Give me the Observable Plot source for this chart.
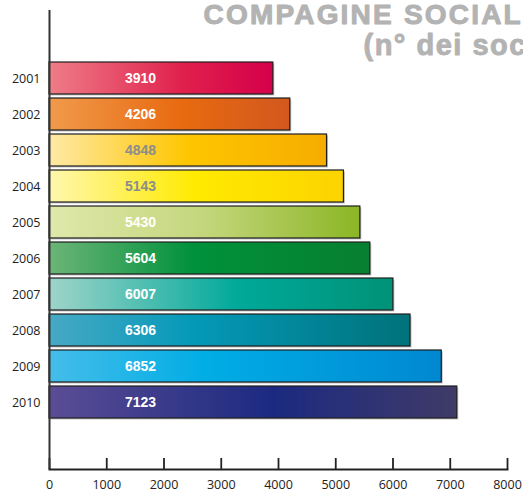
<!DOCTYPE html>
<html>
<head>
<meta charset="utf-8">
<script src="https://cdn.jsdelivr.net/npm/d3@7"></script>
<script src="https://cdn.jsdelivr.net/npm/@observablehq/plot@0.6"></script>
<style>
  html, body { margin: 0; padding: 0; background: #fff; overflow: hidden; }
</style>
</head>
<body>
<div id="chart"></div>
<script>
// ---- data ----
const years = ["2001","2002","2003","2004","2005","2006","2007","2008","2009","2010"];
const members = [3910, 4206, 4848, 5143, 5430, 5604, 6007, 6306, 6852, 7123];
const xTicks = [0, 1000, 2000, 3000, 4000, 5000, 6000, 7000, 8000];
const titleLine1 = "COMPAGINE SOCIALE";
const titleLine2 = "(n° dei soci)";

// ---- styles (gradient stops left / middle / right) ----
const gradLeft  = ["#ee7d87","#f09a4c","#fee9a6","#fff7ae","#dfe8ab","#6cb577","#9fd4c9","#47a9c5","#45bde9","#5b4d95"];
const gradMid   = ["#e0204c","#e86a10","#fec600","#ffea00","#c4d67c","#00913b","#00a99a","#0499b9","#00ade5","#1b2a80"];
const gradMidAt = [0.6, 0.55, 0.5, 0.5, 0.5, 0.45, 0.55, 0.4, 0.4, 0.55];
const gradRight = ["#d5004a","#d2581e","#f6ac00","#fcd300","#8bb625","#077f30","#009277","#00727a","#0088d1","#403b68"];
const labelColor = ["#fff","#fff","#8c8c8c","#8c8c8c","#fff","#fff","#fff","#fff","#fff","#fff"];

const rows = years.map((y, i) => ({year: y, value: members[i], i}));

const svg = Plot.plot({
  width: 523,
  height: 493,
  marginLeft: 49,
  marginRight: 16,
  marginTop: 10,
  marginBottom: 24,
  style: {fontFamily: "'Open Sans', sans-serif", fontSize: "12.5px", color: "#222", background: "#fff"},
  x: {domain: [0, 8000], axis: null},
  y: {domain: years, range: [56.5, 423.2], paddingInner: 0.1, paddingOuter: 0.05, axis: null},
  color: {type: "identity"},
  marks: [
    // shadows
    Plot.barX(rows, {x: "value", y: "year", fill: "#c4c4c4", dx: 1.5, dy: 1.5}),
    // bars
    Plot.barX(rows, {x: "value", y: "year", fill: d => `url(#grad-${d.year})`, stroke: "#1e1e1e", strokeWidth: 1.2}),
    // value labels
    Plot.text(rows, {y: "year", text: d => String(d.value), frameAnchor: "left", dx: 91, textAnchor: "middle",
      fill: d => labelColor[d.i], fontFamily: "'Liberation Sans', Arial, sans-serif", fontWeight: "bold", fontSize: 14}),
    // axes
    Plot.axisY({tickSize: 0, tickPadding: 9, fontSize: 12.5, fill: "#222", label: null}),
    Plot.axisX(xTicks, {tickSize: 0, tickPadding: 11, fontSize: 12.5, fill: "#222", label: null, tickFormat: d => String(d)}),
    Plot.ruleX(xTicks, {insetTop: 448, stroke: "#222", strokeWidth: 1.8}),
    Plot.ruleX([0], {stroke: "#333", strokeWidth: 2}),
    Plot.frame({anchor: "bottom", stroke: "#222", strokeWidth: 2}),
    // title
    Plot.text([titleLine1], {frameAnchor: "top-left", dx: 154, dy: 13, lineAnchor: "bottom", textAnchor: "start",
      fill: "#b3b3b3", stroke: "#b3b3b3", strokeWidth: 1.0,
      fontFamily: "'Liberation Sans', Arial, sans-serif", fontWeight: "bold", fontSize: 28}),
    Plot.text([titleLine2], {frameAnchor: "top-left", dx: 314, dy: 44, lineAnchor: "bottom", textAnchor: "start",
      fill: "#b3b3b3", stroke: "#b3b3b3", strokeWidth: 0.9,
      fontFamily: "'Liberation Sans', Arial, sans-serif", fontWeight: "bold", fontSize: 29})
  ]
});

// gradient definitions
const defs = d3.select(svg).insert("defs", ":first-child");
years.forEach((y, i) => {
  const g = defs.append("linearGradient").attr("id", `grad-${y}`)
    .attr("x1", "0").attr("y1", "0").attr("x2", "1").attr("y2", "0");
  g.append("stop").attr("offset", 0).attr("stop-color", gradLeft[i]);
  g.append("stop").attr("offset", gradMidAt[i]).attr("stop-color", gradMid[i]);
  g.append("stop").attr("offset", 1).attr("stop-color", gradRight[i]);
});

// wider tracking for the title lines
d3.select(svg).selectAll("text")
  .filter(function() { return this.textContent === titleLine1; })
  .attr("letter-spacing", "2.2px");
d3.select(svg).selectAll("text")
  .filter(function() { return this.textContent === titleLine2; })
  .attr("letter-spacing", "1.5px");

document.getElementById("chart").appendChild(svg);
</script>
</body>
</html>
